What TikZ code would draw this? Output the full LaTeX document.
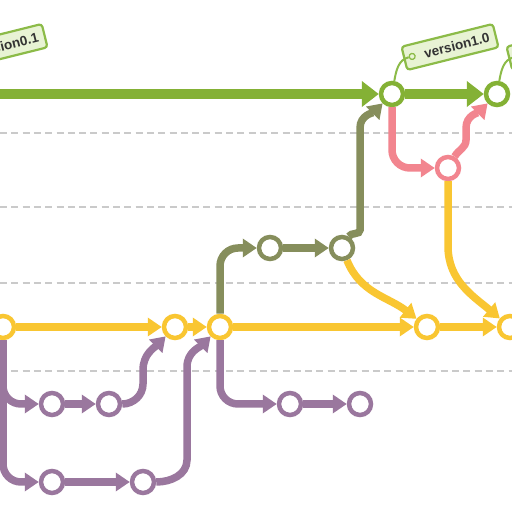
\documentclass[tikz,border=0pt]{standalone}
\usepackage{fontspec}
\setmainfont{Liberation Sans}
\usetikzlibrary{arrows.meta}
\definecolor{cgreen}{HTML}{84B135}
\definecolor{cyellow}{HTML}{F9C632}
\definecolor{cpurple}{HTML}{9A779E}
\definecolor{colive}{HTML}{868E5C}
\definecolor{cpink}{HTML}{F2858F}
\definecolor{cdash}{HTML}{CACACA}
\definecolor{ctagfill}{HTML}{E8F3D4}
\definecolor{ctagline}{HTML}{8CBB48}
\definecolor{ctext}{HTML}{333333}
\begin{document}
\begin{tikzpicture}[x=1pt,y=1pt,
  commit/.style={circle, draw=#1, fill=white, line width=4.5pt, minimum size=22pt, inner sep=0pt},
  conn/.style={draw=#1, line width=7.5pt, -{Triangle[length=14pt,width=18pt]}},
  mainconn/.style={draw=cgreen, line width=10pt, -{Triangle[length=17pt,width=25pt]}},
  gridline/.style={draw=cdash, line width=1.5pt, dash pattern=on 7pt off 4.3pt},
  tagbox/.style={draw=ctagline, fill=ctagfill, line width=2.2pt, rounded corners=3pt, minimum width=94pt, minimum height=24pt, inner sep=0pt},
  taghole/.style={circle, draw=ctagline, fill=ctagfill, line width=1.3pt, minimum size=6pt, inner sep=0pt},
  tagtext/.style={text=ctext, font=\fontsize{13.5}{15}\selectfont\bfseries, inner sep=0pt},
  tagline/.style={draw=ctagline, line width=2pt},
  rc/.style={rounded corners=18pt}]
\useasboundingbox (0,0) rectangle (512,512);
\clip (0,0) rectangle (512,512);
\fill[white] (0,0) rectangle (512,512);
% grid lines
\foreach \yy in {379,305,229,141} \draw[gridline] (0,\yy) -- (512,\yy);
% tags
\begin{scope}[shift={(-1,465)},rotate=14,transform shape]
  \node[tagbox] (t0) at (0,0) {};
  \node[taghole] (h0) at (-39,0) {};
  \node[tagtext] (l0) at (7,0) {version0.1};
\end{scope}
\begin{scope}[shift={(450,465)},rotate=14,transform shape]
  \node[tagbox] (t1) at (0,0) {};
  \node[taghole] (h1) at (-39,0) {};
  \node[tagtext] (l1) at (7,0) {version1.0};
\end{scope}
\begin{scope}[shift={(555,465)},rotate=14,transform shape]
  \node[tagbox] (t2) at (0,0) {};
  \node[taghole] (h2) at (-39,0) {};
\end{scope}
% commits
\node[commit=cgreen] (M0) at (-59,418) {};
\node[commit=cgreen] (A) at (392,418) {};
\node[commit=cgreen] (B) at (497,418) {};
\node[commit=cpink] (P) at (448,344) {};
\node[commit=colive] (O1) at (270,264) {};
\node[commit=colive] (O2) at (342,264) {};
\node[commit=cyellow] (Y0) at (3,185) {};
\node[commit=cyellow] (Y1) at (175,185) {};
\node[commit=cyellow] (Y2) at (220,185) {};
\node[commit=cyellow] (Y3) at (427,185) {};
\node[commit=cyellow] (Y4) at (510,185) {};
\node[commit=cpurple] (U1) at (52,108) {};
\node[commit=cpurple] (U2) at (109,108) {};
\node[commit=cpurple] (W1) at (52,30) {};
\node[commit=cpurple] (W2) at (143,30) {};
\node[commit=cpurple] (V1) at (290,108) {};
\node[commit=cpurple] (V2) at (360,108) {};
% tag strings
\draw[tagline] (h0) to[out=190,in=80] (M0);
\draw[tagline] (h1) to[out=190,in=80] (A);
\draw[tagline] (h2) to[out=190,in=80] (B);
% master
\draw[mainconn] (M0) -- (A);
\draw[mainconn] (A) -- (B);
% pink hotfix
\draw[conn=cpink, rc] (A) |- (P);
\draw[conn=cpink] (P) to[out=60,in=270] (466,372) -- (466,384) to[out=90,in=225] (B);
% yellow develop
\draw[conn=cyellow] (Y0) -- (Y1);
\draw[conn=cyellow] (Y1) -- (Y2);
\draw[conn=cyellow] (Y2) -- (Y3);
\draw[conn=cyellow] (Y3) -- (Y4);
\draw[conn=cyellow] (P) -- (448,266) to[out=270,in=140] (Y4);
\draw[conn=cyellow] (O2) to[out=-68,in=142] (Y3);
% olive release
\draw[conn=colive, rc] (Y2) |- (O1);
\draw[conn=colive] (O1) -- (O2);
\draw[conn=colive] (O2) to[out=60,in=270] (360,282) -- (360,384) to[out=90,in=225] (A);
% purple features
\draw[conn=cpurple, rc] (Y0) |- (U1);
\draw[conn=cpurple] (U1) -- (U2);
\draw[conn=cpurple] (U2) to[out=0,in=270] (143,128) -- (143,142) to[out=90,in=225] (Y1);
\draw[conn=cpurple, rc] (Y0) |- (W1);
\draw[conn=cpurple] (W1) -- (W2);
\draw[conn=cpurple] (W2) to[out=0,in=270] (187,52) -- (187,145) to[out=90,in=225] (Y2);
\draw[conn=cpurple, rc] (Y2) |- (V1);
\draw[conn=cpurple] (V1) -- (V2);
\end{tikzpicture}
\end{document}
